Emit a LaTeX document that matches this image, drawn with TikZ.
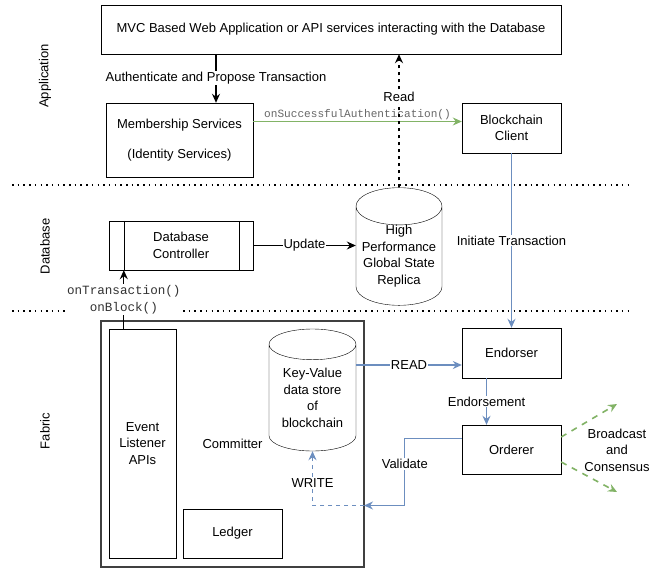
\documentclass[tikz,border=0pt]{standalone}
\usepackage{fontspec}
\setmainfont{Liberation Sans}
\setmonofont{Liberation Mono}
\usetikzlibrary{arrows.meta,shapes.geometric}
\definecolor{fabblue}{HTML}{6C8EBF}
\definecolor{fabgreen}{HTML}{82B366}
\tikzset{
  box/.style={draw, inner sep=0pt, align=center},
  store/.style={draw, cylinder, shape border rotate=90, aspect=0.5, inner sep=0pt, align=center, anchor=shape center},
  lbl/.style={fill=white, text=black, inner sep=1pt, align=center},
  codelbl/.style={lbl, font=\ttfamily\fontsize{12.6}{17}\selectfont, text=black!80},
  layer/.style={line width=1.5pt, dash pattern=on 1.5pt off 4.2pt},
  flow/.style={line width=1.3pt, -{Stealth[length=9pt,width=8pt,inset=3pt]}},
  blueflow/.style={flow, fabblue},
  greenflow/.style={flow, fabgreen, line width=1.6pt, dash pattern=on 6pt off 6pt}
}
\begin{document}
\begin{tikzpicture}[x=1pt, y=-1pt, font=\fontsize{13}{16.5}\selectfont]
  \useasboundingbox[fill=white] (0,0) rectangle (660,569);
  \draw[layer] (12,185) -- (633,185);
  \draw[layer] (12,311) -- (633,311);
  \node[rotate=90] (applayer) at (45,76) {Application};
  \node[rotate=90] (dblayer) at (45,246.5) {Database};
  \node[rotate=90] (fablayer) at (45,431) {Fabric};
  \node[box, minimum width=460pt, minimum height=49pt] (mvc) at (331,29.5) {MVC Based Web Application or API services interacting with the Database};
  \node[box, minimum width=147pt, minimum height=74pt] (member) at (179.5,140) {Membership Services\\[14pt](Identity Services)};
  \node[box, minimum width=99pt, minimum height=50pt] (client) at (511.5,128) {Blockchain\\Client};
  \node[box, minimum width=144pt, minimum height=49pt] (dbc) at (181,245.5) {Database\\Controller};
  \draw ([xshift=15pt]dbc.north west) -- ([xshift=15pt]dbc.south west);
  \draw ([xshift=-14.5pt]dbc.north east) -- ([xshift=-14.5pt]dbc.south east);
  \node[store, minimum width=86pt, minimum height=107pt] (replica) at (399,246.5) {High\\Performance\\Global State\\Replica};
  \node[box, draw=black!75, line width=1.2pt, minimum width=263pt, minimum height=246pt] (committer) at (232.5,444) {Committer};
  \node[box, minimum width=67pt, minimum height=229pt] (listener) at (142.5,443.5) {Event\\Listener\\APIs};
  \node[box, minimum width=99pt, minimum height=49pt] (ledger) at (232.5,533.5) {Ledger};
  \node[store, minimum width=87pt, minimum height=122pt] (kv) at (312.5,390) {Key-Value\\data store\\of\\blockchain};
  \node[box, below of=client, node distance=225pt, minimum width=99pt, minimum height=50pt] (endorser) {Endorser};
  \node[box, below of=endorser, node distance=96.5pt, minimum width=99pt, minimum height=49pt] (orderer) {Orderer};
  \node[align=center] (bcast) at (617,450) {Broadcast\\and\\Consensus};
  \coordinate (authtop) at (216,54);
  \coordinate (wr) at (364,505.5);
  \coordinate (bcup) at (617,404);
  \coordinate (bcdown) at (617,492);
  \draw[flow] (authtop) -- node[lbl] {Authenticate and Propose Transaction} (authtop |- member.north);
  \draw[flow, fabgreen] ([yshift=18.5pt]member.east) -- node[above, inner sep=1pt, font=\ttfamily\fontsize{11.1}{13}\selectfont, text=black!60] {onSuccessfulAuthentication()} ([yshift=6.5pt]client.west);
  \draw[flow, line width=1.5pt, dash pattern=on 3.5pt off 3.5pt] (replica.north) -- node[lbl, pos=0.68] {Read} (replica.north |- mvc.south);
  \draw[flow] (dbc.east) -- node[lbl] {Update} (dbc.east -| replica.west);
  \draw[flow] ([xshift=15pt]listener.north west) -- node[codelbl] {onTransaction()\\onBlock()} ([xshift=15pt]dbc.south west);
  \draw[blueflow] (client.south) -- node[lbl] {Initiate Transaction} (endorser.north);
  \draw[blueflow] ([yshift=-12pt]endorser.west -| kv.east) -- node[lbl] {READ} ([yshift=-12pt]endorser.west);
  \draw[blueflow] ([xshift=-25pt]endorser.south) -- node[lbl] {Endorsement} ([xshift=-25pt]orderer.north);
  \draw[blueflow] ([yshift=11.2pt]orderer.west) -- ++(-57pt,0) |- node[lbl, pos=0.19] {Validate} (wr);
  \draw[blueflow, dash pattern=on 4pt off 4pt] (wr) -| node[lbl, pos=0.71] {WRITE} (kv.south);
  \draw[greenflow] ([yshift=12.5pt]orderer.east) -- (bcup);
  \draw[greenflow] ([yshift=-12.5pt]orderer.east) -- (bcdown);
\end{tikzpicture}
\end{document}
